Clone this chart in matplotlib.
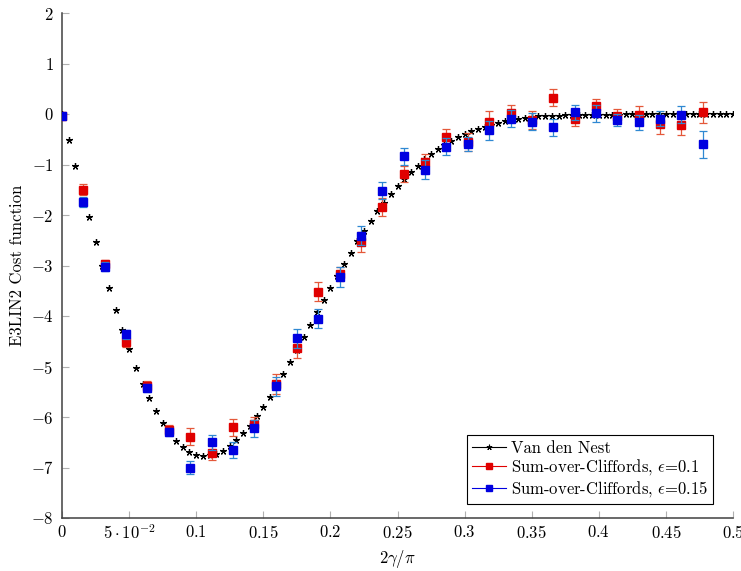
import numpy as np
import matplotlib
matplotlib.use("Agg")
import matplotlib.pyplot as plt
from matplotlib.lines import Line2D
from matplotlib.ticker import FixedLocator, FixedFormatter

# =====================================================================
# General plot settings (LaTeX / pgfplots look)
# =====================================================================
plt.rcParams['font.family'] = 'serif'
plt.rcParams['font.serif'] = ['cmr10', 'DejaVu Serif']
plt.rcParams['mathtext.fontset'] = 'cm'
plt.rcParams['axes.unicode_minus'] = False
plt.rcParams['axes.formatter.use_mathtext'] = True
plt.rcParams['font.size'] = 12

# =====================================================================
# Data
# =====================================================================
# Van den Nest: exact curve, sampled every 0.005 on 2*gamma/pi
vdn_x = np.linspace(0.0, 0.5, 101)
vdn_y = [
  0.0, -0.52, -1.03, -1.54, -2.03, -2.53, -3.0, -3.45, -3.88, -4.28,
  -4.66, -5.02, -5.34, -5.63, -5.89, -6.11, -6.30, -6.47, -6.59, -6.69,
  -6.75, -6.77, -6.76, -6.73, -6.67, -6.57, -6.46, -6.32, -6.17, -5.99,
  -5.80, -5.60, -5.38, -5.14, -4.91, -4.67, -4.42, -4.18, -3.93, -3.68,
  -3.44, -3.20, -2.97, -2.75, -2.52, -2.31, -2.12, -1.93, -1.76, -1.58,
  -1.43, -1.29, -1.14, -1.02, -0.90, -0.79, -0.70, -0.62, -0.54, -0.46,
  -0.40, -0.34, -0.30, -0.25, -0.21, -0.17, -0.145, -0.12, -0.10, -0.08,
  -0.06, -0.046, -0.04, -0.03, -0.03, -0.025, -0.02, -0.02, -0.015, -0.015,
  -0.01, -0.01, -0.01, -0.01, -0.005, -0.005, -0.005, -0.005, 0.0, 0.0,
  0.0, 0.0, 0.0, 0.0, 0.0, 0.0, 0.0, 0.0, 0.0, 0.0,
  0.0,
]

# Sum-over-Cliffords: gamma step 0.025, plotted at 2*gamma/pi
soc_gamma = np.arange(31) * 0.025
soc_x = 2 * soc_gamma / np.pi

soc01_y = [
  -0.03, -1.50, -2.97, -4.52, -5.38, -6.25, -6.39, -6.71, -6.20, -6.13,
  -5.35, -4.64, -3.52, -3.16, -2.54, -1.84, -1.18, -0.96, -0.45, -0.55,
  -0.15, 0.01, -0.12, 0.32, -0.10, 0.15, -0.03, -0.02, -0.20, -0.21,
  0.03,
]
soc01_err = [
  0.05, 0.11, 0.08, 0.10, 0.09, 0.09, 0.17, 0.15, 0.17, 0.13,
  0.20, 0.20, 0.19, 0.14, 0.20, 0.18, 0.16, 0.17, 0.16, 0.18,
  0.20, 0.16, 0.17, 0.17, 0.13, 0.15, 0.12, 0.17, 0.19, 0.20,
  0.21,
]

soc015_y = [
  -0.03, -1.75, -3.02, -4.36, -5.42, -6.29, -7.00, -6.50, -6.66, -6.22,
  -5.39, -4.44, -4.05, -3.22, -2.41, -1.52, -0.84, -1.10, -0.65, -0.60,
  -0.32, -0.09, -0.15, -0.26, 0.03, 0.01, -0.12, -0.16, -0.09, -0.01,
  -0.60,
]
soc015_err = [
  0.05, 0.10, 0.08, 0.09, 0.08, 0.08, 0.12, 0.15, 0.16, 0.17,
  0.19, 0.19, 0.19, 0.20, 0.19, 0.17, 0.17, 0.19, 0.17, 0.14,
  0.19, 0.17, 0.16, 0.17, 0.15, 0.16, 0.12, 0.15, 0.15, 0.17,
  0.27,
]

x_ticks = [0, 0.05, 0.1, 0.15, 0.2, 0.25, 0.3, 0.35, 0.4, 0.45, 0.5]
x_tick_labels = ["$0$", r"$5\cdot10^{-2}$", "$0.1$", "$0.15$", "$0.2$", "$0.25$",
                 "$0.3$", "$0.35$", "$0.4$", "$0.45$", "$0.5$"]
y_ticks = [-8, -7, -6, -5, -4, -3, -2, -1, 0, 1, 2]
y_tick_labels = [f"${v}$" for v in y_ticks]

RED = '#e00000'
RED_ERR = '#e4583a'
BLUE = '#0000e0'
BLUE_ERR = '#2f88d2'

# =====================================================================
# Figure
# =====================================================================
fig = plt.figure(figsize=(7.41, 5.71), dpi=100)
ax = fig.add_axes([62 / 741, 1 - 518 / 571, 671 / 741, 505 / 571])

# Van den Nest: marks only on the plot
star = (5, 2, 0)
ax.plot(vdn_x, vdn_y, linestyle='none', marker=star, color='black',
        markersize=5, markeredgewidth=0.9, zorder=3)

ax.errorbar(soc_x, soc01_y, yerr=soc01_err, fmt='s', color=RED,
            markersize=5.6, markeredgecolor=RED, ecolor=RED_ERR,
            elinewidth=0.9, capsize=2.8, capthick=0.9, zorder=4)
ax.errorbar(soc_x, soc015_y, yerr=soc015_err, fmt='s', color=BLUE,
            markersize=5.6, markeredgecolor=BLUE, ecolor=BLUE_ERR,
            elinewidth=0.9, capsize=2.8, capthick=0.9, zorder=5)

# =====================================================================
# Axes styling
# =====================================================================
ax.set_xlim(0, 0.5)
ax.set_ylim(-8, 2)

ax.xaxis.set_major_locator(FixedLocator(x_ticks))
ax.xaxis.set_major_formatter(FixedFormatter(x_tick_labels))
ax.yaxis.set_major_locator(FixedLocator(y_ticks))
ax.yaxis.set_major_formatter(FixedFormatter(y_tick_labels))

for side in ['top', 'right']:
  ax.spines[side].set_visible(False)
for side in ['left', 'bottom']:
  ax.spines[side].set_color('#404040')
  ax.spines[side].set_linewidth(1.1)

ax.tick_params(direction='in', length=5, width=0.8, color='#b0b0b0',
               labelsize=12)
ax.tick_params(axis='y', pad=6)
ax.tick_params(axis='x', pad=4)

ax.set_xlabel(r"$2\gamma/\pi$", fontsize=12, labelpad=4)
ax.set_ylabel("E3LIN2 Cost function", fontsize=12, labelpad=4)

# =====================================================================
# Legend
# =====================================================================
handles = [
  Line2D([], [], color='black', linewidth=0.8, marker=star, markersize=4,
         markeredgewidth=0.8),
  Line2D([], [], color=RED, linewidth=0.8, marker='s', markersize=4.5),
  Line2D([], [], color=BLUE, linewidth=0.8, marker='s', markersize=4.5),
]
labels = ["Van den Nest",
          r"Sum-over-Cliffords, $\epsilon$=0.1",
          r"Sum-over-Cliffords, $\epsilon$=0.15"]
leg = ax.legend(handles, labels, loc='lower right',
                bbox_to_anchor=(0.970, 0.0277), borderaxespad=0,
                fancybox=False, framealpha=1, edgecolor='black',
                fontsize=12, handlelength=2.0, handletextpad=0.3,
                borderpad=0.3, labelspacing=0.1)
leg.get_frame().set_linewidth(0.8)

fig.savefig("out.png", dpi=100)
